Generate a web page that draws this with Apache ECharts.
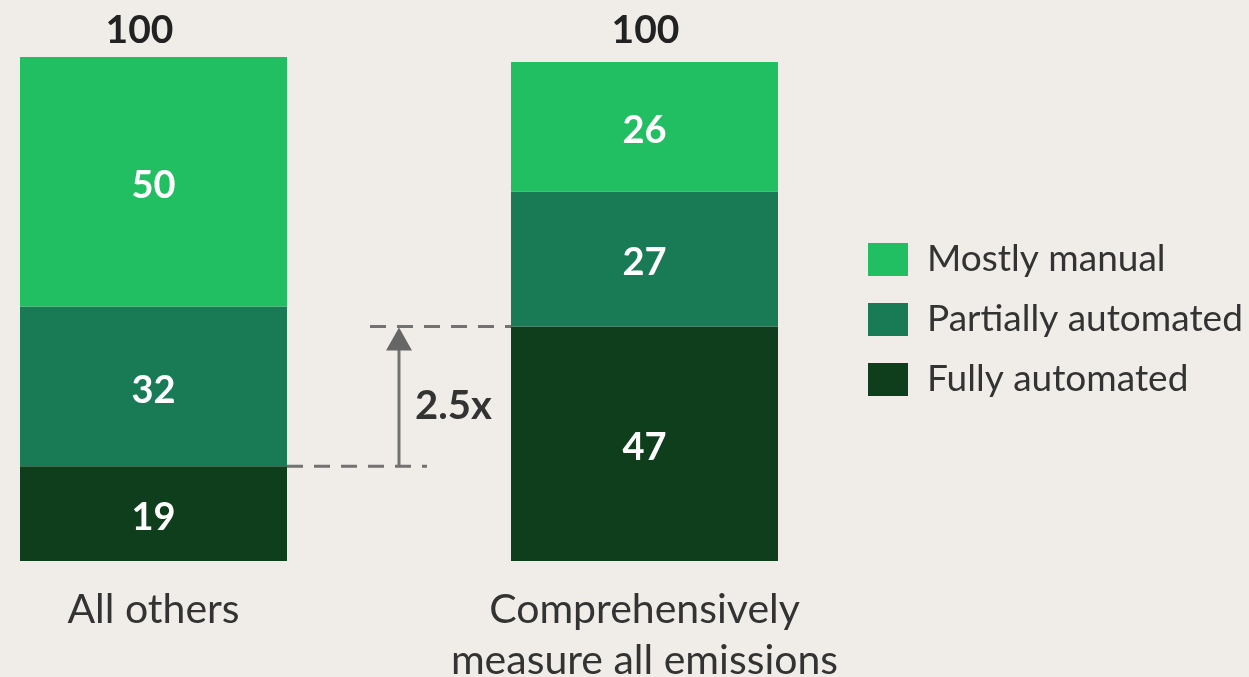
<!DOCTYPE html>
<html>
<head>
<meta charset="utf-8">
<script src="https://cdn.jsdelivr.net/npm/echarts@6/dist/echarts.min.js"></script>
<style>
  html, body { margin: 0; padding: 0; background: #f0ede8; }
  #chart { width: 1249px; height: 677px; }
</style>
</head>
<body>
<div id="chart"></div>
<script>
// Share of companies by level of emissions-measurement automation
const categories = ['All others', 'Comprehensively\nmeasure all emissions'];
const fullyAutomated = [19, 47];
const partiallyAutomated = [32, 27];
const mostlyManual = [50, 26];
const totals = [100, 100];
const multiplierLabel = '2.5x';

const FONT = 'Lato';
const TEXT = '#333333';
const BG = '#f0ede8';

const chart = echarts.init(document.getElementById('chart'), null, { renderer: 'canvas' });

const segLabel = {
  show: true,
  position: 'inside',
  offset: [0, 4],
  color: '#ffffff',
  fontFamily: FONT,
  fontWeight: 'bold',
  fontSize: 38
};

function barSeries(name, data, color) {
  return {
    name: name,
    type: 'bar',
    stack: 'total',
    data: data,
    barWidth: 267,
    clip: false,
    itemStyle: { color: color },
    label: segLabel,
    emphasis: { disabled: true }
  };
}

chart.setOption({
  backgroundColor: BG,
  animation: false,
  grid: {
    left: 153.5, right: 604.5, top: 62, bottom: 116,
    containLabel: false,
    outerBoundsMode: 'none'
  },
  xAxis: {
    type: 'category',
    data: categories,
    boundaryGap: false,
    axisLine: { show: false },
    axisTick: { show: false },
    axisLabel: {
      margin: 23,
      color: TEXT,
      fontFamily: FONT,
      fontSize: 41,
      lineHeight: 51,
      interval: 0
    }
  },
  yAxis: {
    type: 'value',
    min: 0,
    max: 100,
    show: false,
    splitLine: { show: false }
  },
  legend: {
    orient: 'vertical',
    left: 868,
    top: 241,
    padding: 0,
    itemWidth: 40,
    itemHeight: 33,
    itemGap: 23,
    icon: 'rect',
    selectedMode: false,
    data: ['Mostly manual', 'Partially automated', 'Fully automated'],
    textStyle: {
      color: TEXT,
      fontFamily: FONT,
      fontSize: 37,
      lineHeight: 33,
      height: 33,
      padding: [0, 0, 0, 14]
    }
  },
  series: [
    barSeries('Fully automated', fullyAutomated, '#0e3e1b'),
    barSeries('Partially automated', partiallyAutomated, '#197a56'),
    barSeries('Mostly manual', mostlyManual, '#21bf61'),
    {
      name: 'Total',
      type: 'scatter',
      data: totals.map((v, i) => ({
        value: v,
        label: { offset: [i === 0 ? -14 : 1, 0] }
      })),
      symbolSize: 0,
      silent: true,
      itemStyle: { opacity: 1 },
      label: {
        show: true,
        position: 'top',
        distance: 12,
        color: '#222222',
        opacity: 1,
        fontFamily: FONT,
        fontWeight: 'bold',
        fontSize: 39
      }
    }
  ]
});

// Annotation: dashed guides at the top of each "Fully automated" segment with an arrow between them
function drawAnnotation() {
  const yLow = chart.convertToPixel({ yAxisIndex: 0 }, fullyAutomated[0]);
  const yHigh = chart.convertToPixel({ yAxisIndex: 0 }, fullyAutomated[1]);
  const xLeft = chart.convertToPixel({ xAxisIndex: 0 }, categories[0]);
  const xRight = chart.convertToPixel({ xAxisIndex: 0 }, categories[1]);
  const half = 267 / 2;
  const leftEdge = xLeft + half;      // right edge of first bar
  const rightEdge = xRight - half;    // left edge of second bar
  const arrowX = leftEdge + 112;
  const grey = '#727272';
  const dash = { stroke: grey, lineWidth: 3, lineDash: [16, 11] };

  chart.setOption({
    graphic: [
      { type: 'line', shape: { x1: leftEdge, y1: yLow, x2: leftEdge + 140, y2: yLow }, style: dash, silent: true },
      { type: 'line', shape: { x1: rightEdge - 141, y1: yHigh, x2: rightEdge, y2: yHigh }, style: dash, silent: true },
      { type: 'line', shape: { x1: arrowX, y1: yLow, x2: arrowX, y2: yHigh + 20 }, style: { stroke: grey, lineWidth: 3 }, silent: true },
      { type: 'polygon', shape: { points: [[arrowX, yHigh + 1], [arrowX - 13, yHigh + 24], [arrowX + 13, yHigh + 24]] }, style: { fill: '#666666' }, silent: true },
      {
        type: 'text',
        x: arrowX + 16,
        y: (yLow + yHigh) / 2 + 10,
        style: {
          text: multiplierLabel,
          fill: '#333333',
          font: 'bold 40px ' + FONT,
          textVerticalAlign: 'middle'
        },
        silent: true
      }
    ]
  });
}
drawAnnotation();
</script>
</body>
</html>
